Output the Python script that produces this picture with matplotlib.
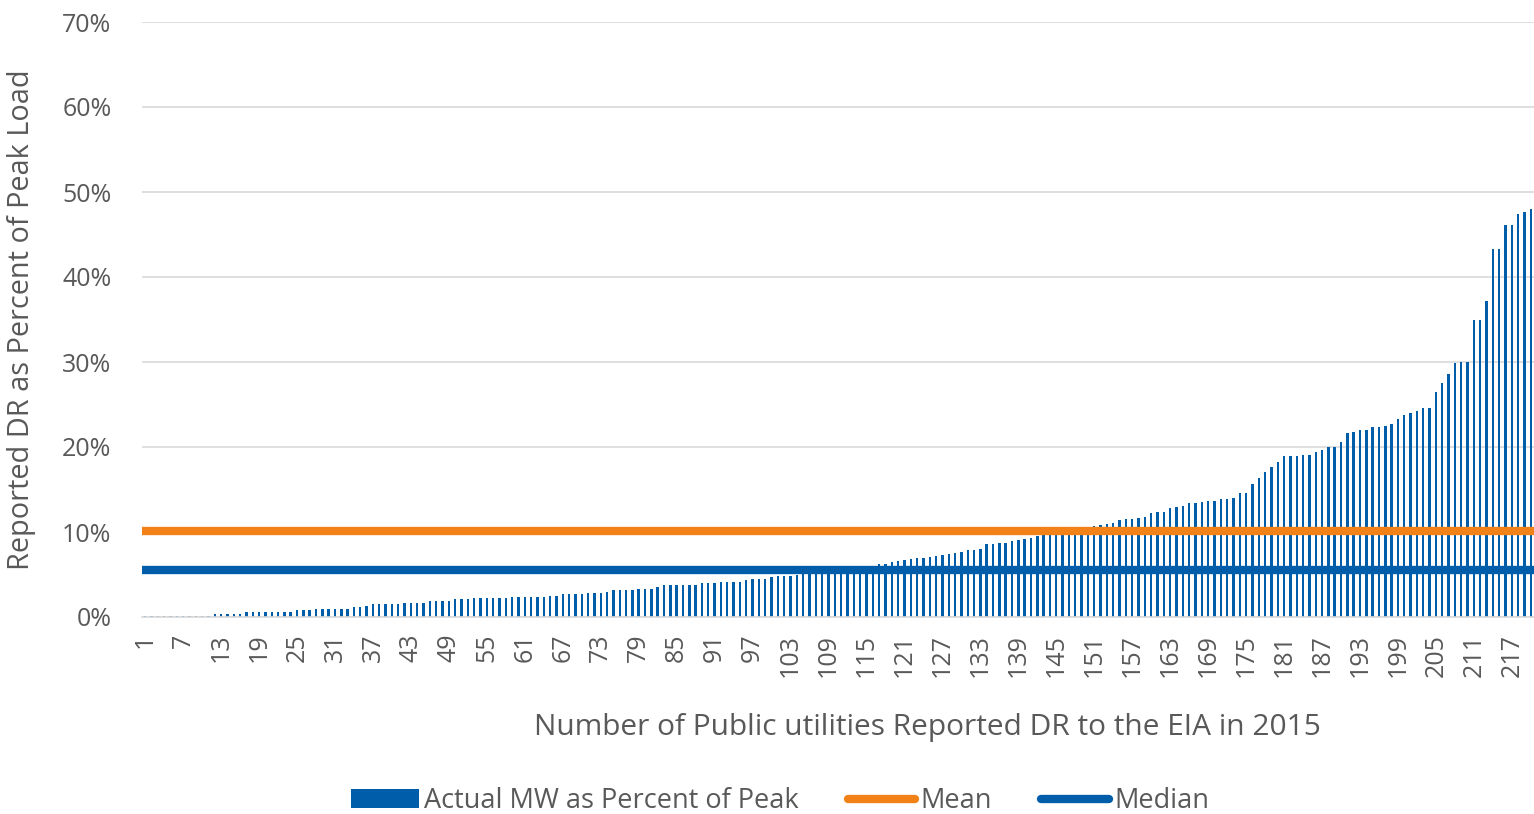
import matplotlib.pyplot as plt

# values, utilities sorted by DR share (percent of peak)
pct_of_peak = [
    0.1, 0.1, 0.1, 0.15, 0.15, 0.1, 0.1, 0.1, 0.1, 0.1,
    0.15, 0.4, 0.4, 0.35, 0.35, 0.35, 0.6, 0.6, 0.6, 0.6,
    0.6, 0.6, 0.6, 0.6, 0.8, 0.8, 0.8, 0.95, 1.0, 1.0,
    1.0, 1.0, 1.0, 1.15, 1.15, 1.3, 1.5, 1.5, 1.5, 1.5,
    1.5, 1.7, 1.7, 1.7, 1.7, 1.9, 1.9, 1.9, 1.9, 2.1,
    2.1, 2.1, 2.2, 2.2, 2.2, 2.2, 2.2, 2.2, 2.35, 2.35,
    2.35, 2.35, 2.35, 2.35, 2.45, 2.45, 2.65, 2.65, 2.65, 2.65,
    2.8, 2.8, 2.8, 2.95, 3.15, 3.15, 3.15, 3.15, 3.35, 3.35,
    3.35, 3.55, 3.75, 3.75, 3.75, 3.75, 3.75, 3.75, 3.95, 3.95,
    3.95, 4.15, 4.15, 4.15, 4.15, 4.3, 4.5, 4.5, 4.5, 4.65,
    4.85, 4.85, 4.85, 5.0, 5.1, 5.2, 5.3, 5.4, 5.4, 5.5,
    5.5, 5.6, 5.7, 5.8, 5.9, 6.0, 6.2, 6.2, 6.5, 6.6,
    6.7, 6.8, 6.9, 7.0, 7.1, 7.2, 7.3, 7.45, 7.5, 7.7,
    7.85, 7.9, 8.05, 8.55, 8.6, 8.7, 8.75, 8.9, 9.1, 9.2,
    9.3, 9.5, 9.6, 9.7, 9.8, 9.9, 10.0, 10.1, 10.2, 10.4,
    10.7, 10.8, 10.9, 11.1, 11.4, 11.5, 11.5, 11.6, 11.8, 12.2,
    12.3, 12.4, 12.8, 12.9, 13.1, 13.4, 13.4, 13.5, 13.7, 13.7,
    13.9, 13.9, 14.0, 14.6, 14.6, 15.7, 16.3, 17.1, 17.7, 18.2,
    18.95, 18.95, 18.95, 19.1, 19.1, 19.45, 19.7, 20.0, 20.0, 20.6,
    21.6, 21.8, 22.0, 22.0, 22.3, 22.3, 22.5, 22.7, 23.25, 23.8,
    24.0, 24.2, 24.6, 24.6, 26.5, 27.5, 28.6, 29.9, 30.0, 30.0,
    34.9, 34.9, 37.2, 43.3, 43.3, 46.1, 46.1, 47.4, 47.7, 48.0,
]
mean_pct = 10.1
median_pct = 5.5

blue = "#005DAA"
orange = "#F28118"
grey_text = "#595959"

plt.rcParams["font.family"] = ["Open Sans", "DejaVu Sans"]

fig = plt.figure(figsize=(15.34, 8.14), dpi=100)
ax = fig.add_axes([142 / 1534, 1 - 617 / 814, 1 - 142 / 1534, (617 - 22) / 814])

n = len(pct_of_peak)
xs = list(range(1, n + 1))
bars = ax.bar(xs, pct_of_peak, width=0.38, color=blue, zorder=2)
mean_line = ax.axhline(mean_pct, color=orange, lw=6, solid_capstyle="round", zorder=3)
median_line = ax.axhline(median_pct, color=blue, lw=6, solid_capstyle="round", zorder=3)

ax.set_xlim(0.5, n + 0.5)
ax.set_ylim(0, 70)
ax.set_yticks(range(0, 71, 10))
ax.set_yticklabels([f"{v}%" for v in range(0, 71, 10)])
ax.set_xticks(xs[::6])
ax.set_xticklabels([str(v) for v in xs[::6]], rotation=90)
ax.tick_params(axis="both", length=0, labelsize=18, colors=grey_text)
ax.tick_params(axis="y", pad=22)
ax.tick_params(axis="x", pad=12)

ax.grid(axis="y", color="#D9D9D9", lw=1.2, zorder=0)
for side in ["top", "right", "left"]:
    ax.spines[side].set_visible(False)
ax.spines["bottom"].set_color("#D9D9D9")
ax.spines["bottom"].set_linewidth(1.2)

fig.text(22 / 1534, 1 - 320 / 814, "Reported DR as Percent of Peak Load", rotation=90,
         ha="center", va="center", fontsize=20.8, color=grey_text)
fig.text(927 / 1534, 1 - 727 / 814, "Number of Public utilities Reported DR to the EIA in 2015",
         ha="center", va="center", fontsize=21.5, color=grey_text)

fig.legend([bars, mean_line, median_line],
           ["Actual MW as Percent of Peak", "Mean", "Median"],
           loc="center", bbox_to_anchor=(780 / 1534, 1 - 801 / 814), ncol=3,
           frameon=False, fontsize=19.5, handlelength=2.5, handletextpad=0.2,
           columnspacing=1.8, labelcolor=grey_text)

fig.savefig("out.png", dpi=100)
